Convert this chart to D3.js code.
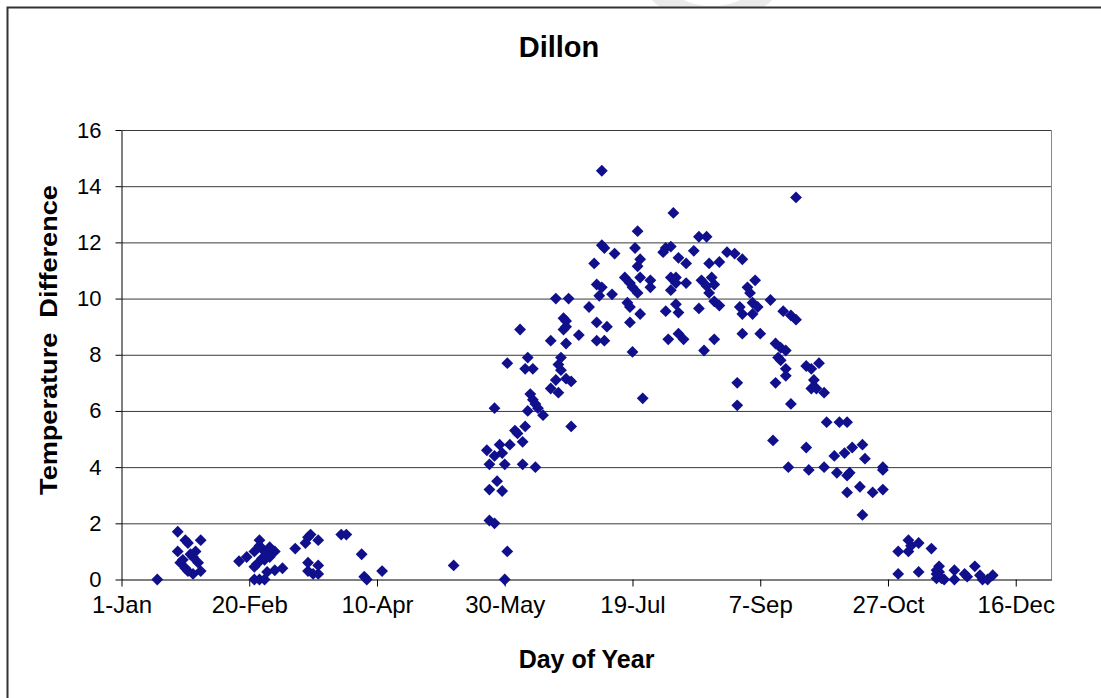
<!DOCTYPE html>
<html>
<head>
<meta charset="utf-8">
<script src="https://cdn.jsdelivr.net/npm/d3@7/dist/d3.min.js"></script>
<style>
  body { margin: 0; background: #fff; }
  svg { display: block; font-family: Arial, "Liberation Sans", sans-serif; }
</style>
</head>
<body>
<svg id="chart" width="1101" height="698"></svg>
<script>
// Dillon - temperature difference by day of year
var dayOfYear = [
  15, 23, 23, 26, 27, 24, 26, 25, 28, 30,
  31, 29, 32, 32, 27, 29, 47, 50, 53, 55,
  55, 57, 58, 59, 61, 59, 57, 56, 53, 54,
  58, 61, 64, 53, 55, 57, 69, 73, 74, 75,
  78, 74, 74, 76, 78, 78, 87, 89, 95, 96,
  97, 103, 131, 151, 152, 145, 147, 145, 148, 150,
  145, 151, 144, 147, 149, 150, 153, 158, 163, 155,
  156, 158, 159, 147, 160, 161, 162, 163, 164, 166,
  177, 152, 159, 162, 160, 157, 169, 172, 171, 175,
  177, 173, 172, 173, 169, 175, 180, 174, 175, 174,
  175, 171, 176, 184, 187, 191, 187, 190, 186, 187,
  189, 188, 193, 189, 190, 194, 189, 203, 202, 204,
  203, 198, 200, 204, 201, 203, 199, 200, 204, 200,
  201, 205, 217, 214, 216, 213, 219, 222, 225, 227,
  230, 231, 235, 238, 241, 244, 208, 208, 216, 218,
  218, 216, 222, 228, 230, 232, 233, 231, 233, 235,
  214, 218, 219, 227, 215, 219, 221, 233, 229, 246,
  247, 249, 243, 244, 248, 250, 248, 255, 260, 263,
  265, 244, 251, 257, 259, 261, 258, 259, 261, 261,
  257, 242, 242, 263, 265, 269, 271, 274, 272, 271,
  276, 273, 277, 256, 269, 282, 285, 262, 270, 276,
  280, 284, 287, 291, 292, 281, 285, 286, 299, 299,
  285, 290, 295, 299, 291, 305, 309, 310, 313, 309,
  318, 305, 313, 321, 320, 321, 320, 322, 320, 327,
  327, 331, 332, 335, 337, 338, 340, 342, 323
];

var tempDiff = [
  0, 1.7, 1.0, 1.4, 1.3, 0.6, 0.4, 0.7, 0.9, 1.0,
  0.6, 0.2, 1.4, 0.3, 0.3, 0.8, 0.65, 0.8, 1.0, 1.2,
  1.4, 1.0, 1.0, 1.15, 1.0, 0.8, 0.7, 0.75, 0.45, 0.55,
  0.27, 0.33, 0.4, 0, 0, 0, 1.1, 1.3, 1.5, 1.6,
  1.4, 0.6, 0.3, 0.2, 0.5, 0.2, 1.6, 1.6, 0.9, 0.1,
  0, 0.3, 0.5, 0, 1.0, 2.1, 2.0, 3.2, 3.5, 3.15,
  4.1, 4.1, 4.6, 4.4, 4.8, 4.5, 4.8, 4.1, 4.0, 5.3,
  5.2, 4.9, 5.45, 6.1, 6.0, 6.6, 6.4, 6.25, 6.1, 5.85,
  5.45, 7.7, 7.5, 7.5, 7.9, 8.9, 6.8, 6.65, 7.1, 7.15,
  7.05, 7.9, 7.65, 7.45, 8.5, 8.4, 8.7, 9.3, 9.2, 8.9,
  9.0, 10.0, 10.0, 9.7, 9.15, 9.0, 8.5, 8.5, 11.25, 10.5,
  10.4, 10.1, 10.15, 11.9, 11.8, 11.6, 14.55, 12.4, 11.8, 11.4,
  11.15, 10.75, 10.55, 10.75, 10.4, 10.2, 9.85, 9.7, 9.45, 9.15,
  8.1, 6.45, 13.05, 11.8, 11.85, 11.65, 11.45, 11.25, 11.7, 12.2,
  12.2, 11.25, 11.3, 11.65, 11.6, 11.4, 10.65, 10.4, 10.75, 10.75,
  10.55, 10.3, 10.55, 10.65, 10.45, 10.75, 10.5, 10.2, 9.9, 9.75,
  9.55, 9.8, 9.5, 9.65, 8.55, 8.75, 8.55, 8.55, 8.15, 10.4,
  10.2, 10.65, 9.7, 9.45, 9.85, 9.7, 9.45, 9.95, 9.55, 9.4,
  9.25, 8.75, 8.75, 8.4, 8.25, 8.15, 7.9, 7.8, 7.5, 7.25,
  7.0, 7.0, 6.2, 6.25, 13.6, 7.6, 7.5, 7.7, 7.1, 6.8,
  6.65, 6.8, 5.6, 4.95, 4.7, 5.6, 5.6, 4.0, 3.9, 4.0,
  4.4, 4.5, 4.7, 4.8, 4.3, 3.8, 3.7, 3.8, 4.0, 3.9,
  3.1, 3.3, 3.1, 3.2, 2.3, 1.0, 1.4, 1.2, 1.3, 1.0,
  1.1, 0.2, 0.27, 0.47, 0.33, 0.27, 0.04, 0.04, 0.2, 0.33,
  0, 0.2, 0.1, 0.47, 0.15, 0, 0, 0.15, 0
];

// x axis ticks every 50 days
var tickDays = [1, 51, 101, 151, 201, 251, 301, 351];
var tickLabels = ['1-Jan', '20-Feb', '10-Apr', '30-May', '19-Jul', '7-Sep', '27-Oct', '16-Dec'];
var yTicks = [0, 2, 4, 6, 8, 10, 12, 14, 16];

var CHART_TITLE = 'Dillon';
var X_TITLE = 'Day of Year';
var Y_TITLE = 'Temperature  Difference';
var MARKER_COLOR = '#10108c';

var svg = d3.select('#chart');

var plotLeft = 121.5, plotRight = 1051.5, plotTop = 130, plotBottom = 579.5;

var xScale = d3.scaleLinear()
    .domain([1, 365])
    .range([plotLeft, plotRight]);

var yScale = d3.scaleLinear()
    .domain([0, 16])
    .range([plotBottom, plotTop]);

// faint watermark ring, only its top peeks out above the chart area
svg.append('path')
  .attr('d', d3.arc()({innerRadius: 70, outerRadius: 88, startAngle: 0, endAngle: Math.PI * 2}))
  .attr('transform', 'translate(712,-64)')
  .attr('fill', '#eaeaea');

// white chart area covering the rest of it
svg.append('rect')
  .attr('x', 7.5).attr('y', 7.5)
  .attr('width', 1101).attr('height', 698)
  .attr('fill', '#fff');

// outer chart border (only top and left show in the picture)
svg.append('path')
  .attr('d', 'M7.5,698 L7.5,7.5 L1101,7.5')
  .attr('fill', 'none')
  .attr('stroke', '#333')
  .attr('stroke-width', 2);

// gridlines
svg.append('g')
  .attr('transform', 'translate(' + plotLeft + ',0)')
  .call(d3.axisLeft(yScale).tickValues(yTicks.slice(1)).tickSize(-(plotRight - plotLeft)).tickFormat(''))
  .call(function (g) { g.select('.domain').remove(); })
  .selectAll('line')
  .attr('stroke', '#3a3a3a');

// right border of plot area
svg.append('line')
  .attr('x1', plotRight).attr('x2', plotRight)
  .attr('y1', plotTop).attr('y2', plotBottom)
  .attr('stroke', '#888');

// y axis
var yAxis = svg.append('g')
  .attr('transform', 'translate(' + plotLeft + ',0)')
  .call(d3.axisLeft(yScale).tickValues(yTicks).tickSize(6).tickPadding(14).tickSizeOuter(0));
yAxis.select('.domain').attr('stroke', '#000');
yAxis.selectAll('line').attr('stroke', '#000');
yAxis.selectAll('text')
  .attr('font-size', 22)
  .attr('font-family', 'Arial, "Liberation Sans", sans-serif')
  .attr('fill', '#000');

// x axis
var xAxis = svg.append('g')
  .attr('transform', 'translate(0,' + plotBottom + ')')
  .call(d3.axisBottom(xScale).tickValues(tickDays).tickSize(7).tickPadding(9).tickSizeOuter(0)
    .tickFormat(function (d, i) { return tickLabels[i]; }));
xAxis.select('.domain').attr('stroke', '#000');
xAxis.selectAll('line').attr('stroke', '#000');
xAxis.selectAll('text')
  .attr('font-size', 24)
  .attr('font-family', 'Arial, "Liberation Sans", sans-serif')
  .attr('fill', '#000');

// markers
var points = dayOfYear.map(function (d, i) { return {day: d, value: tempDiff[i]}; });

svg.append('g').selectAll('path')
  .data(points)
  .enter()
  .append('path')
  .attr('d', d3.symbol().type(d3.symbolSquare).size(70))
  .attr('transform', function (d) {
    return 'translate(' + xScale(d.day) + ',' + yScale(d.value) + ') rotate(45)';
  })
  .attr('fill', MARKER_COLOR);

// titles
svg.append('text')
  .attr('x', 559).attr('y', 57)
  .attr('text-anchor', 'middle')
  .attr('font-size', 29)
  .attr('font-weight', 'bold')
  .text(CHART_TITLE);

svg.append('text')
  .attr('x', (plotLeft + plotRight) / 2).attr('y', 668)
  .attr('text-anchor', 'middle')
  .attr('font-size', 25)
  .attr('font-weight', 'bold')
  .text(X_TITLE);

// y title is stretched along its length, like the reference
svg.append('text')
  .attr('transform', 'translate(57,340) rotate(-90) scale(1.13,1)')
  .attr('text-anchor', 'middle')
  .attr('font-size', 24)
  .attr('font-weight', 'bold')
  .style('white-space', 'pre')
  .text(Y_TITLE);
</script>
</body>
</html>
